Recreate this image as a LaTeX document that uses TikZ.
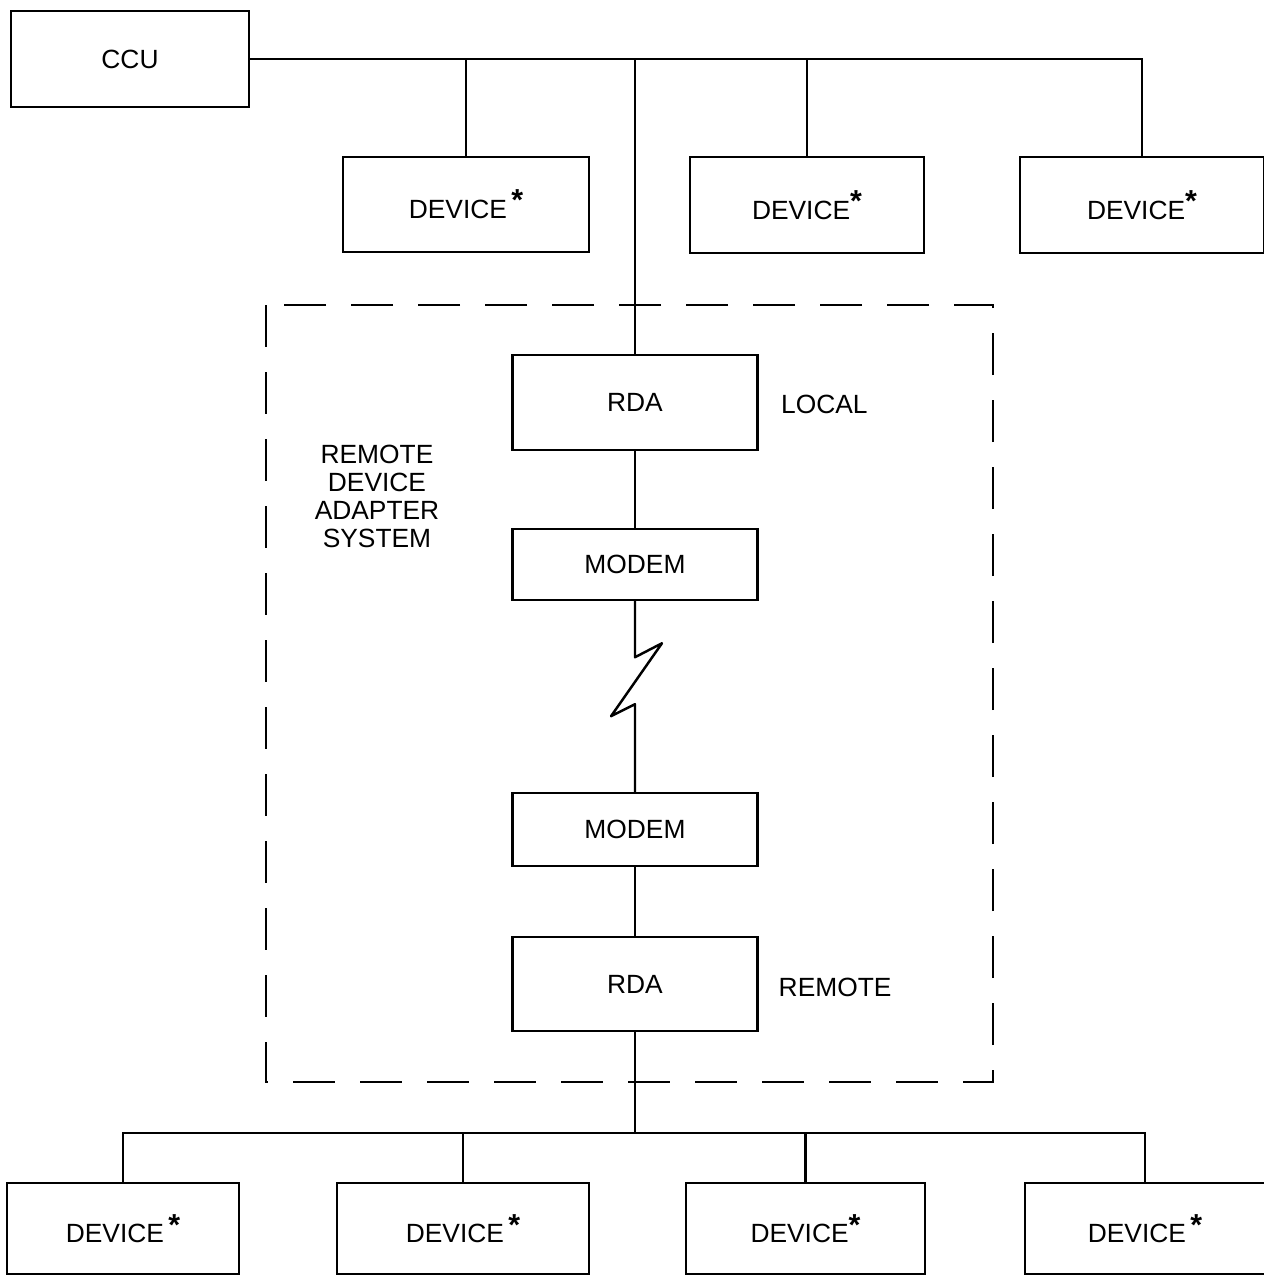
\documentclass[tikz,border=0pt]{standalone}
\usepackage{fontspec}
\setmainfont{Liberation Sans}
\usepackage{tikz}
\usetikzlibrary{positioning, calc}

\newcommand{\dstar}{\raisebox{0.55ex}{\LARGE\bfseries *}}

\begin{document}
\begin{tikzpicture}[
    box/.style={draw, line width=1.4pt, minimum width=4.9cm, minimum height=1.9cm, font=\fontsize{15}{16}\selectfont},
    wire/.style={line width=1.4pt},
    label/.style={font=\fontsize{15}{16}\selectfont}
]
    \useasboundingbox (0,0) rectangle (25.26,-25.52);

    % Top row
    \node[box, minimum width=4.76cm, minimum height=1.92cm] (ccu) at (2.6,-1.18) {CCU};
    \node[box, minimum width=4.92cm] (devA) at (9.32,-4.09) {DEVICE\,\dstar};
    \node[box, minimum width=4.68cm, minimum height=1.92cm] (devB) at (16.14,-4.1) {DEVICE\dstar};
    \node[box, minimum width=4.88cm, minimum height=1.92cm] (devC) at (22.84,-4.1) {DEVICE\dstar};

    % Remote device adapter system
    \node[box, minimum height=1.9cm] (rdaL) at (12.7,-8.05) {RDA};
    \node[box, minimum height=1.42cm] (mdmL) at (12.7,-11.29) {MODEM};
    \node[box, minimum height=1.46cm] (mdmR) at (12.7,-16.59) {MODEM};
    \node[box, minimum height=1.88cm] (rdaR) at (12.7,-19.68) {RDA};

    \node[label, anchor=west] (local) at (15.5,-8.08) {LOCAL};
    \node[label, anchor=west] (remote) at (15.45,-19.74) {REMOTE};
    \node[label, align=center] (rdas) at (7.54,-9.93) {REMOTE\\DEVICE\\ADAPTER\\SYSTEM};

    \draw[line width=1.4pt, dash pattern=on 0.84cm off 0.5cm] (5.32,-6.1) rectangle (19.86,-21.64);

    % Bottom row
    \node[box, minimum width=4.64cm, minimum height=1.82cm] (devD) at (2.46,-24.57) {DEVICE\,\dstar};
    \node[box, minimum width=5.04cm, minimum height=1.82cm] (devE) at (9.26,-24.57) {DEVICE\,\dstar};
    \node[box, minimum width=4.78cm, minimum height=1.82cm] (devF) at (16.11,-24.57) {DEVICE\dstar};
    \node[box, minimum width=4.8cm, minimum height=1.82cm] (devG) at (22.9,-24.57) {DEVICE\,\dstar};

    % Upper bus
    \draw[wire] (ccu.east) -| (devC.north);
    \draw[wire] (devA.north) -- (devA.north |- ccu.east);
    \draw[wire] (devB.north) -- (devB.north |- ccu.east);
    \draw[wire] (rdaL.north) -- (rdaL.north |- ccu.east);

    % Link through the modems
    \draw[wire] (rdaL) -- (mdmL);
    \draw[wire, line join=round] (mdmL.south) -- ++(0,-1.12) -- ++(0.54,0.28)
        -- ++(-1.02,-1.46) -- ++(0.48,0.24) -- (mdmR.north);
    \draw[wire] (mdmR) -- (rdaR);

    % Lower bus
    \coordinate (busB) at (12.7,-22.66);
    \draw[wire] (rdaR.south) -- (busB);
    \draw[wire] (devD.north) -- (devD.north |- busB) -- (devG.north |- busB) -- (devG.north);
    \draw[wire] (devE.north) -- (devE.north |- busB);
    \draw[wire] (devF.north) -- (devF.north |- busB);

\end{tikzpicture}
\end{document}
